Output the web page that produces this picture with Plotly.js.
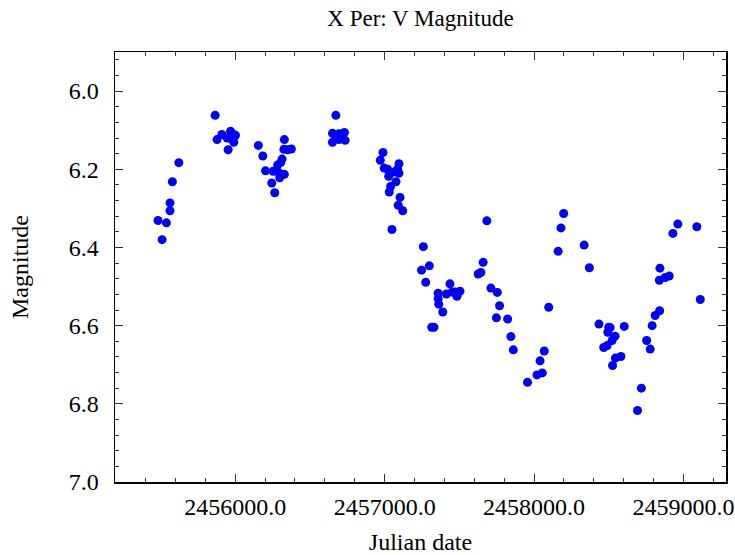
<!DOCTYPE html>
<html>
<head>
<meta charset="utf-8">
<script src="https://cdn.plot.ly/plotly-3.0.1.min.js"></script>
<style>html,body{margin:0;padding:0;background:#fff;}</style>
</head>
<body>
<div id="chart" style="width:735px;height:555px;"></div>
<script>
// Julian dates
const jd = [
  2455511, 2455484, 2455540, 2455564, 2455564, 2455580, 2455623,
  2455866, 2455879, 2455911, 2455953, 2455969, 2455982, 2455991, 2456002, 2455946, 2455976,
  2456155, 2456185, 2456203, 2456245, 2456265, 2456329, 2456326, 2456351, 2456376, 2456314, 2456304, 2456284, 2456254, 2456296, 2456329, 2456298, 2456279,
  2456674, 2456651, 2456694, 2456731, 2456651, 2456694, 2456736, 2456714, 2456674,
  2456989, 2456971, 2456997, 2457020, 2457096, 2457087, 2457096, 2457067, 2457027, 2457076, 2457040, 2457031, 2457103, 2457091, 2457121, 2457049,
  2457259, 2457247, 2457299, 2457275, 2457315, 2457330, 2457358, 2457358, 2457362, 2457389, 2457437, 2457413, 2457451, 2457484, 2457504, 2457471,
  2457684, 2457659, 2457626, 2457644, 2457711, 2457754, 2457769, 2457748, 2457823, 2457845, 2457861,
  2458098, 2458068, 2458040, 2458055, 2458019, 2457956, 2458198, 2458180, 2458161,
  2458335, 2458370, 2458434, 2458500, 2458493, 2458603, 2458542, 2458522, 2458489, 2458466, 2458544, 2458581, 2458525, 2458509,
  2458692, 2458718, 2458753, 2458777, 2458790, 2458810, 2458840, 2458842, 2458838, 2458877, 2458904, 2458929, 2458962, 2459089, 2459112
];
// V magnitudes
const vmag = [
  6.380, 6.331, 6.337, 6.306, 6.286, 6.232, 6.183,
  6.062, 6.124, 6.111, 6.150, 6.103, 6.109, 6.131, 6.113, 6.120, 6.123,
  6.139, 6.166, 6.204, 6.235, 6.260, 6.124, 6.149, 6.150, 6.148, 6.174, 6.183, 6.189, 6.205, 6.210, 6.213, 6.222, 6.205,
  6.062, 6.108, 6.109, 6.106, 6.131, 6.124, 6.126, 6.121, 6.121,
  6.157, 6.177, 6.197, 6.200, 6.186, 6.200, 6.210, 6.207, 6.218, 6.232, 6.244, 6.258, 6.272, 6.292, 6.306, 6.354,
  6.398, 6.458, 6.447, 6.489, 6.604, 6.604, 6.517, 6.531, 6.545, 6.565, 6.493, 6.519, 6.514, 6.525, 6.512, 6.514,
  6.332, 6.438, 6.468, 6.464, 6.504, 6.515, 6.549, 6.580, 6.583, 6.628, 6.662,
  6.553, 6.665, 6.690, 6.721, 6.726, 6.745, 6.313, 6.350, 6.410,
  6.394, 6.452, 6.596, 6.604, 6.617, 6.602, 6.627, 6.638, 6.651, 6.656, 6.683, 6.679, 6.702, 6.605,
  6.817, 6.760, 6.638, 6.660, 6.600, 6.574, 6.562, 6.453, 6.484, 6.477, 6.473, 6.364, 6.340, 6.347, 6.533
];

const chartTitle = "X Per: V Magnitude";
const xTitle = "Julian date";
const yTitle = "Magnitude";

const FONT = "Liberation Serif, Times New Roman, serif";

const trace = {
  x: jd, y: vmag,
  type: "scatter", mode: "markers",
  marker: {color: "#0000ff", size: 9, line: {width: 0}},
  hoverinfo: "x+y"
};

const axisCommon = {
  showline: true, linecolor: "#000", linewidth: 1.5, mirror: "ticks",
  ticks: "inside", ticklen: 8, tickwidth: 1, tickcolor: "#333",
  showgrid: false, zeroline: false,
  tickfont: {family: FONT, size: 24, color: "#000"},
  tickformat: ".1f"
};

const layout = {
  width: 735, height: 555,
  margin: {l: 115, r: 9, t: 52, b: 73, pad: 0},
  paper_bgcolor: "#fff", plot_bgcolor: "#fff",
  showlegend: false,
  font: {family: FONT, color: "#000"},
  title: {text: chartTitle, font: {family: FONT, size: 23, color: "#000"},
          x: 0.5, xref: "paper", y: 0.968, yref: "container", yanchor: "middle"},
  xaxis: Object.assign({}, axisCommon, {
    range: [2455196, 2459284],
    tick0: 2456000, dtick: 1000,
    ticklabelstandoff: 3,
    minor: {ticks: "inside", ticklen: 4, dtick: 200, tick0: 2456000, tickcolor: "#333", tickwidth: 1},
    title: {text: xTitle, font: {family: FONT, size: 24, color: "#000"}, standoff: 15}
  }),
  yaxis: Object.assign({}, axisCommon, {
    range: [7.0, 5.9],
    tick0: 6.0, dtick: 0.2,
    ticklabelstandoff: 10,
    minor: {ticks: "inside", ticklen: 4, dtick: 0.04, tick0: 6.0, tickcolor: "#333", tickwidth: 1},
    title: {text: yTitle, font: {family: FONT, size: 24, color: "#000"}, standoff: 33}
  })
};

Plotly.newPlot("chart", [trace], layout, {displayModeBar: false, staticPlot: true});
</script>
</body>
</html>
